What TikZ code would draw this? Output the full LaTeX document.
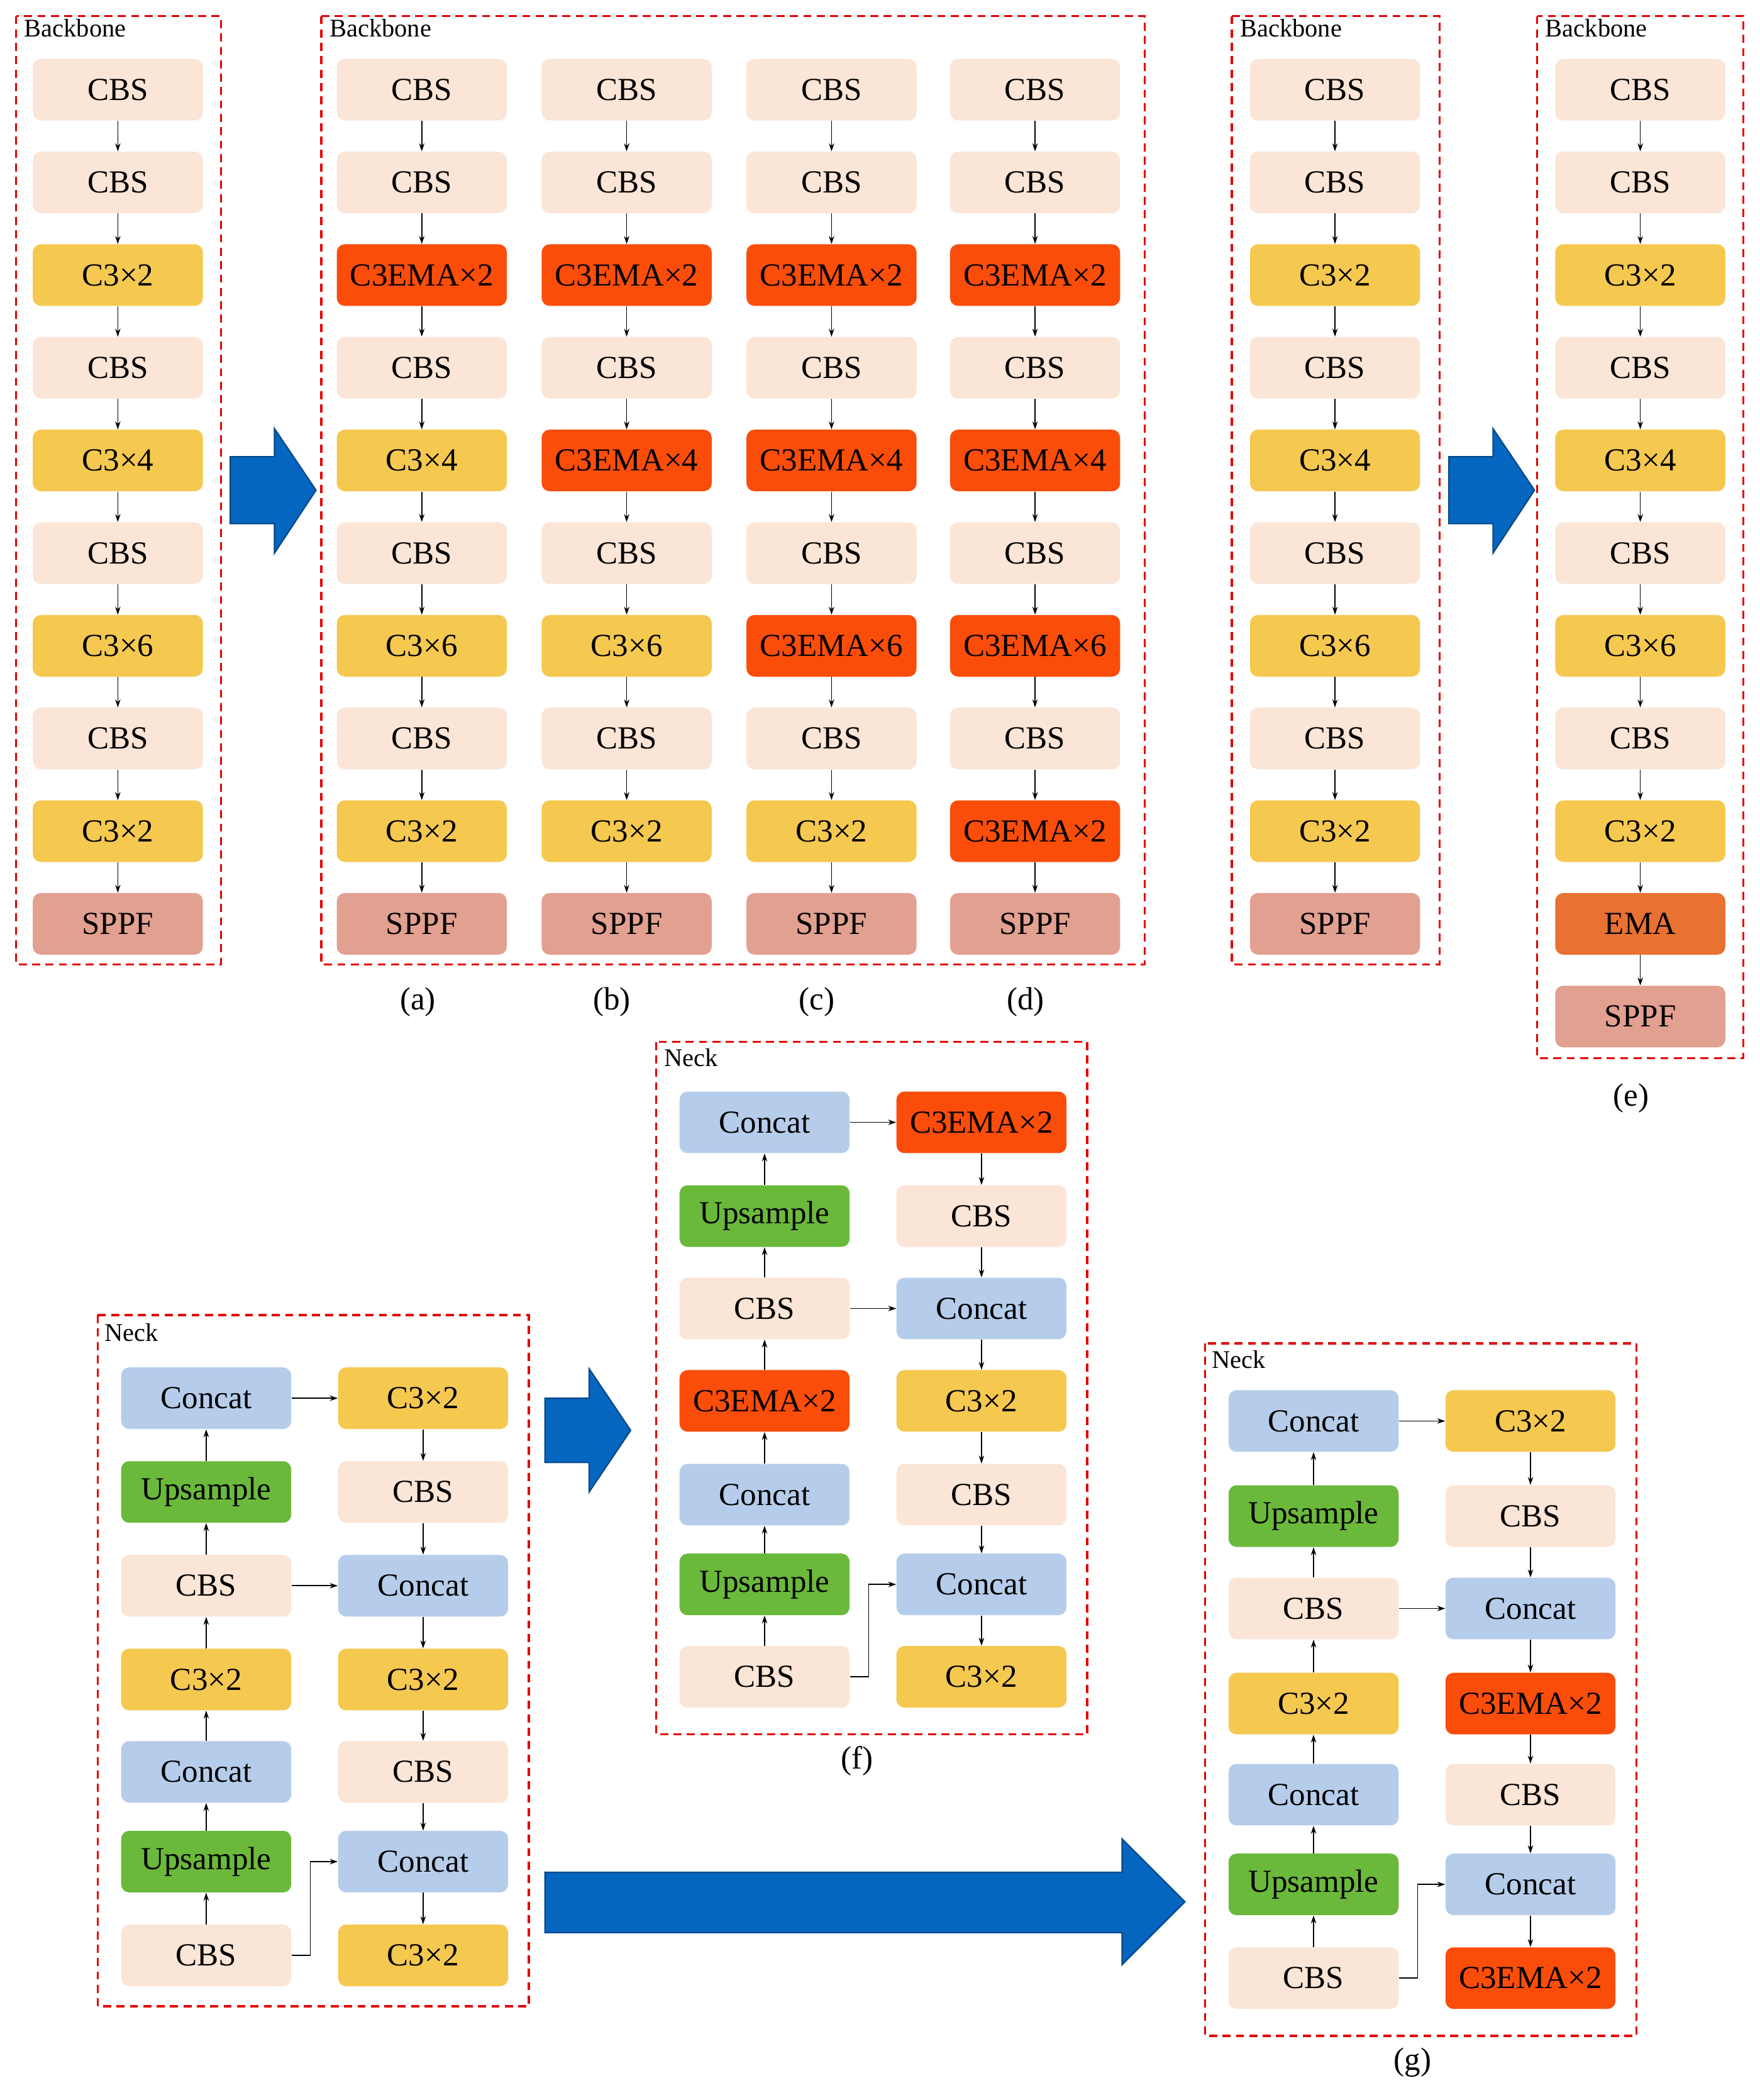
\documentclass[tikz,border=0pt]{standalone}
\usepackage{fontspec}
\setmainfont{Liberation Serif}
\usetikzlibrary{arrows.meta}
\definecolor{cbs}{HTML}{FBE5D6}
\definecolor{cthree}{HTML}{F5C850}
\definecolor{cema}{HTML}{FA4D0A}
\definecolor{sppf}{HTML}{E2A090}
\definecolor{ema}{HTML}{E97132}
\definecolor{concat}{HTML}{B5CDEB}
\definecolor{ups}{HTML}{6AB93B}
\definecolor{barrow}{HTML}{0566C0}
\tikzset{
 box/.style={rounded corners=6pt,minimum width=127pt,minimum height=46pt,inner sep=0pt,font=\fontsize{24}{26}\selectfont},
 CBS/.style={box,fill=cbs},
 CT/.style={box,fill=cthree},
 CE/.style={box,fill=cema},
 SP/.style={box,fill=sppf},
 EM/.style={box,fill=ema},
 CC/.style={box,fill=concat},
 UP/.style={box,fill=ups},
 arr/.style={-{Stealth[length=6pt,width=4pt]},line width=0.8pt},
 frame/.style={draw=red!90!black,dashed,line width=1.6pt,dash pattern=on 6pt off 4pt},
 ttl/.style={anchor=north west,inner sep=0pt,font=\fontsize{19}{20}\selectfont},
 capt/.style={font=\fontsize{24}{26}\selectfont},
 bigarrow/.style={fill=barrow,draw=barrow!70!black,line width=1pt}
}
\newcommand\mkcol[3]{%
 \foreach \s/\t [count=\i] in {#3} {\node[\s] (#1\i) at (#2,{67+69.2*(\i-1)}) {\t};}%
}
\newcommand\neck[5]{%
 \foreach \s/\t/\y [count=\i] in {#4} {\node[\s] (#1L\i) at (#2,\y) {\t};}
 \foreach \s/\t/\y [count=\i] in {#5} {\node[\s] (#1R\i) at (#3,\y) {\t};}
 \foreach \i [remember=\i as \j (initially 1)] in {2,...,7} {\draw[arr] (#1L\i) -- (#1L\j); \draw[arr] (#1R\j) -- (#1R\i);}
 \draw[arr] (#1L1) -- (#1R1);
 \draw[arr] (#1L3) -- (#1R3);
 \draw[arr] (#1L7.east) -- ++(14,0) |- (#1R6.west);
}
\begin{document}
\begin{tikzpicture}[x=1pt,y=-1pt]
\useasboundingbox (0,0) rectangle (1314,1568);
\mkcol{A}{88}{CBS/CBS,CBS/CBS,CT/C3×2,CBS/CBS,CT/C3×4,CBS/CBS,CT/C3×6,CBS/CBS,CT/C3×2,SP/SPPF}
\mkcol{B}{315}{CBS/CBS,CBS/CBS,CE/C3EMA×2,CBS/CBS,CT/C3×4,CBS/CBS,CT/C3×6,CBS/CBS,CT/C3×2,SP/SPPF}
\mkcol{C}{468}{CBS/CBS,CBS/CBS,CE/C3EMA×2,CBS/CBS,CE/C3EMA×4,CBS/CBS,CT/C3×6,CBS/CBS,CT/C3×2,SP/SPPF}
\mkcol{D}{621}{CBS/CBS,CBS/CBS,CE/C3EMA×2,CBS/CBS,CE/C3EMA×4,CBS/CBS,CE/C3EMA×6,CBS/CBS,CT/C3×2,SP/SPPF}
\mkcol{E}{773}{CBS/CBS,CBS/CBS,CE/C3EMA×2,CBS/CBS,CE/C3EMA×4,CBS/CBS,CE/C3EMA×6,CBS/CBS,CE/C3EMA×2,SP/SPPF}
\mkcol{F}{997}{CBS/CBS,CBS/CBS,CT/C3×2,CBS/CBS,CT/C3×4,CBS/CBS,CT/C3×6,CBS/CBS,CT/C3×2,SP/SPPF}
\mkcol{G}{1225}{CBS/CBS,CBS/CBS,CT/C3×2,CBS/CBS,CT/C3×4,CBS/CBS,CT/C3×6,CBS/CBS,CT/C3×2,EM/EMA,SP/SPPF}
\foreach \c in {A,B,C,D,E,F} {\foreach \i [remember=\i as \j (initially 1)] in {2,...,10} \draw[arr] (\c\j) -- (\c\i);}
\foreach \i [remember=\i as \j (initially 1)] in {2,...,11} \draw[arr] (G\j) -- (G\i);
\draw[frame] (12,12) rectangle (165,720);
\draw[frame] (240,12) rectangle (855,720);
\draw[frame] (920,12) rectangle (1075,720);
\draw[frame] (1148,12) rectangle (1302,790);
\foreach \x in {12,240,920,1148} \node[ttl] (bt\x) at (\x+6,14) {Backbone};
\node[capt] (la) at (312,748) {(a)};
\node[capt] (lb) at (457,748) {(b)};
\node[capt] (lc) at (610,748) {(c)};
\node[capt] (ld) at (766,748) {(d)};
\node[capt] (le) at (1218,820) {(e)};
\draw[bigarrow] (172,341) -- (205,341) -- (205,320) -- (236,366) -- (205,413) -- (205,391) -- (172,391) -- cycle;
\draw[bigarrow] (1082,341) -- (1115,341) -- (1115,320) -- (1146,366) -- (1115,413) -- (1115,391) -- (1082,391) -- cycle;
\draw[bigarrow] (407,1044) -- (440,1044) -- (440,1022) -- (471,1068) -- (440,1114) -- (440,1092) -- (407,1092) -- cycle;
\draw[bigarrow] (407,1398) -- (838,1398) -- (838,1373) -- (885,1420) -- (838,1467) -- (838,1443) -- (407,1443) -- cycle;
\neck{N}{154}{316}{CC/Concat/1044,UP/Upsample/1114,CBS/CBS/1184,CT/C3×2/1254,CC/Concat/1323,UP/Upsample/1390,CBS/CBS/1460}{CT/C3×2/1044,CBS/CBS/1114,CC/Concat/1184,CT/C3×2/1254,CBS/CBS/1323,CC/Concat/1390,CT/C3×2/1460}
\neck{P}{571}{733}{CC/Concat/838,UP/Upsample/908,CBS/CBS/977,CE/C3EMA×2/1046,CC/Concat/1116,UP/Upsample/1183,CBS/CBS/1252}{CE/C3EMA×2/838,CBS/CBS/908,CC/Concat/977,CT/C3×2/1046,CBS/CBS/1116,CC/Concat/1183,CT/C3×2/1252}
\neck{Q}{981}{1143}{CC/Concat/1061,UP/Upsample/1132,CBS/CBS/1201,CT/C3×2/1272,CC/Concat/1340,UP/Upsample/1407,CBS/CBS/1477}{CT/C3×2/1061,CBS/CBS/1132,CC/Concat/1201,CE/C3EMA×2/1272,CBS/CBS/1340,CC/Concat/1407,CE/C3EMA×2/1477}
\draw[frame] (73,982) rectangle (395,1498);
\draw[frame] (490,778) rectangle (812,1295);
\draw[frame] (900,1003) rectangle (1222,1520);
\node[ttl] (nt1) at (78,988) {Neck};
\node[ttl] (nt2) at (496,783) {Neck};
\node[ttl] (nt3) at (905,1008) {Neck};
\node[capt] (lf) at (640,1315) {(f)};
\node[capt] (lg) at (1055,1540) {(g)};
\end{tikzpicture}
\end{document}
